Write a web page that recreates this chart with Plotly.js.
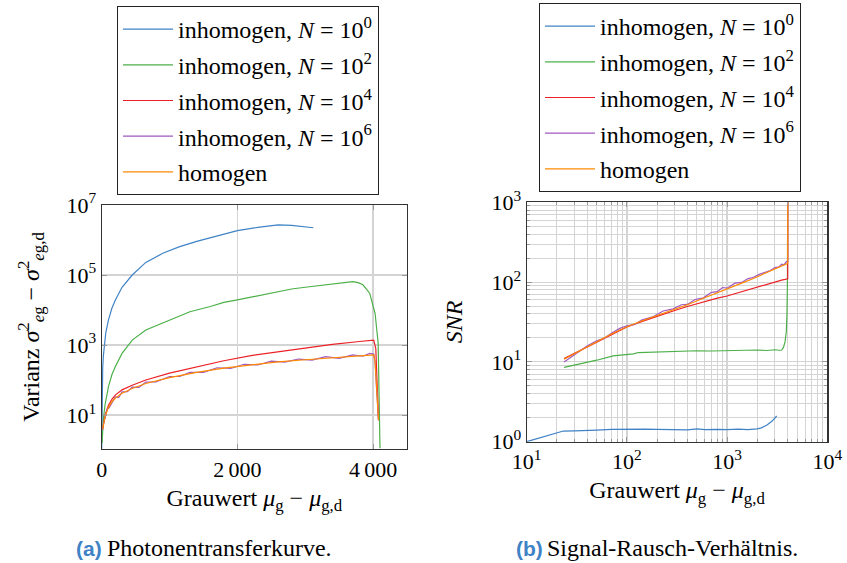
<!DOCTYPE html>
<html>
<head>
<meta charset="utf-8">
<script src="https://cdn.plot.ly/plotly-3.0.1.min.js"></script>
<style>html,body{margin:0;padding:0;background:#fff;}#chart{width:847px;height:563px;}</style>
</head>
<body>
<div id="chart"></div>
<script>
// ---------- Data: (a) Photonentransferkurve ----------
const seriesNames = ['inhomogen, <i>N</i> = 10<sup>0</sup>', 'inhomogen, <i>N</i> = 10<sup>2</sup>',
  'inhomogen, <i>N</i> = 10<sup>4</sup>', 'inhomogen, <i>N</i> = 10<sup>6</sup>', 'homogen'];
const seriesColors = ['#3f83c6', '#4cb049', '#ec2027', '#a259c2', '#ff8a00'];

const ptcN0x = [0, 8, 15, 25, 40, 60, 100, 150, 200, 300, 450, 650, 900, 1150, 1400, 1700, 2000, 2300, 2600, 2800, 3000, 3119];
const ptcN0y = [1.1, 79, 224, 500, 1120, 2240, 5250, 11200, 19000, 44700, 100000, 229000, 417000, 646000, 912000, 1320000, 1860000, 2290000, 2690000, 2630000, 2400000, 2240000];

const ptcN2x = [5, 15, 25, 50, 100, 150, 200, 300, 450, 650, 1000, 1300, 1600, 1800, 2000, 2200, 2400, 2600, 2800, 3000, 3200, 3350, 3500, 3600, 3700, 3780, 3850, 3950, 4030, 4075, 4092, 4102];
const ptcN2y = [1.58, 3.98, 7.94, 20, 64.6, 141, 240, 575, 1380, 2690, 5250, 8910, 12600, 16600, 19500, 23400, 28200, 33900, 39800, 44700, 50100, 55000, 58900, 61700, 64600, 60300, 52500, 30200, 7940, 1120, 39.8, 1.12];

const ptcN4x = [15, 25, 50, 100, 150, 200, 300, 450, 650, 1000, 1400, 1800, 2200, 2600, 3000, 3400, 3800, 3950, 4010, 4040, 4060, 4080];
const ptcN4y = [4.17, 5.62, 10, 19.1, 28.2, 37.2, 52.5, 70.8, 100, 158, 240, 355, 501, 646, 832, 1050, 1260, 1350, 1380, 794, 100, 7.08];

const ptcN6x = [15, 25, 50, 80, 110, 150, 200, 250, 300, 380, 450, 550, 650, 800, 1000, 1150, 1300, 1500, 1700, 1900, 2100, 2300, 2500, 2700, 2900, 3100, 3300, 3500, 3700, 3850, 3950, 4010, 4030, 4050, 4070, 4080];
const ptcN6y = [3.8, 5.5, 8.32, 14.8, 16.2, 22.9, 33.1, 31.6, 45.7, 46.8, 63.1, 61.7, 87.1, 89.1, 126, 126, 166, 166, 224, 214, 282, 269, 347, 324, 398, 372, 468, 417, 525, 479, 575, 550, 316, 63.1, 15.8, 7.08];

const ptcHomx = [15, 25, 50, 100, 150, 200, 300, 450, 650, 1000, 1400, 1800, 2200, 2600, 3000, 3400, 3800, 3950, 4010, 4030, 4050, 4070, 4080];
const ptcHomy = [3.98, 5.25, 8.91, 16.6, 24, 30.2, 41.7, 57.5, 79.4, 117, 166, 219, 275, 331, 380, 437, 490, 513, 525, 316, 63.1, 15.8, 7.08];

// ---------- Data: (b) Signal-Rausch-Verhältnis ----------
const snrN0x = [10, 23.2, 30, 40, 50, 70, 85, 100, 150, 200, 300, 400, 500, 600, 800, 1000, 1300, 1600, 2000, 2200, 2500, 2800, 3126];
const snrN0y = [1.0, 1.36, 1.37, 1.38, 1.40, 1.43, 1.44, 1.44, 1.44, 1.43, 1.42, 1.41, 1.45, 1.42, 1.43, 1.42, 1.44, 1.42, 1.45, 1.49, 1.62, 1.80, 2.10];

const snrN2x = [23.6, 30, 40, 50, 73, 100, 116, 130, 214, 300, 500, 700, 1000, 1500, 2000, 2500, 3000, 3300, 3508, 3650, 3786, 3900, 3960, 4000, 4020, 4030];
const snrN2y = [8.55, 9.1, 9.9, 10.5, 11.9, 12.4, 12.6, 13.1, 13.4, 13.5, 13.8, 13.7, 13.9, 14.0, 14.1, 13.9, 14.2, 14.0, 14.1, 15.2, 17.8, 24, 40, 100, 400, 2000];

const snrN4x = [23.6, 30, 40, 50, 70, 100, 140, 184, 290, 400, 580, 800, 1000, 1400, 1830, 2500, 3000, 3500, 3784, 4027, 4028];
const snrN4y = [11.0, 12.8, 15.7, 18.0, 22.4, 27.4, 32.0, 36.2, 43.5, 49.5, 57.0, 63.0, 67.0, 76.0, 83.6, 95.0, 101, 106, 108, 110, 2000];

const snrN6x = [23.6, 30, 40, 50, 60, 70, 85, 100, 120, 140, 184, 230, 290, 350, 400, 480, 580, 700, 800, 900, 1000, 1200, 1400, 1600, 1830, 2100, 2400, 2700, 3000, 3300, 3500, 3700, 3935, 4027, 4028];
const snrN6y = [10.0, 12.3, 15.8, 18.4, 19.9, 22.9, 26.3, 28.4, 29.5, 33.4, 37.0, 43.5, 46.2, 52.0, 52.5, 60.5, 63.5, 74.5, 76.0, 85.5, 84.0, 97.0, 99.0, 110, 115, 125, 133, 140, 152, 155, 168, 165, 182, 178, 2000];

const snrHomx = [23.6, 30, 40, 50, 70, 100, 140, 184, 290, 400, 580, 800, 1000, 1400, 1830, 2400, 3000, 3500, 3935, 4027, 4028];
const snrHomy = [10.8, 12.6, 15.5, 17.9, 22.4, 27.6, 32.5, 36.8, 44.7, 52, 62.7, 73, 82.6, 97, 111, 128, 144, 157, 168, 172, 2000];

// ---------- Tick labels ----------
const leftXTicks = [0, 2000, 4000];
const leftXText = ['0', '2\u2009000', '4\u2009000'];
const leftYTicks = [10, 1000, 100000, 10000000];
const leftYText = ['10<sup>1</sup>', '10<sup>3</sup>', '10<sup>5</sup>', '10<sup>7</sup>'];
const rightXTicks = [10, 100, 1000, 10000];
const rightXText = ['10<sup>1</sup>', '10<sup>2</sup>', '10<sup>3</sup>', '10<sup>4</sup>'];
const rightYTicks = [1, 10, 100, 1000];
const rightYText = ['10<sup>0</sup>', '10<sup>1</sup>', '10<sup>2</sup>', '10<sup>3</sup>'];

// minor tick positions for log axes (2..9 in each decade)
function minorVals(d0, d1) {
  const v = [];
  for (let d = d0; d < d1; d++) for (let m = 2; m <= 9; m++) v.push(m * Math.pow(10, d));
  return v;
}

const FONT = 'Liberation Serif';
const SANS = 'Liberation Sans';
const leftX = [ptcN0x, ptcN2x, ptcN4x, ptcN6x, ptcHomx];
const leftY = [ptcN0y, ptcN2y, ptcN4y, ptcN6y, ptcHomy];
const rightX = [snrN0x, snrN2x, snrN4x, snrN6x, snrHomx];
const rightY = [snrN0y, snrN2y, snrN4y, snrN6y, snrHomy];

const traces = [];
for (let i = 0; i < 5; i++) {
  traces.push({x: leftX[i], y: leftY[i], xaxis: 'x', yaxis: 'y', type: 'scatter', mode: 'lines',
    name: seriesNames[i], legend: 'legend', legendgroup: 'a' + i,
    line: {color: seriesColors[i], width: 1.2}});
}
for (let i = 0; i < 5; i++) {
  traces.push({x: rightX[i], y: rightY[i], xaxis: 'x2', yaxis: 'y2', type: 'scatter', mode: 'lines',
    name: seriesNames[i], legend: 'legend2', legendgroup: 'b' + i,
    line: {color: seriesColors[i], width: 1.2}});
}

const GRID = '#d4d4d4';
const FRAME = '#333333';
const tickFont = {family: FONT, size: 22, color: '#000'};
const titleFont = {family: FONT, size: 24, color: '#000'};

const legendBase = {
  font: {family: FONT, size: 24, color: '#000'},
  bgcolor: '#fff', bordercolor: '#222', borderwidth: 1,
  xanchor: 'left', yanchor: 'top', itemwidth: 50, tracegroupgap: 1.5,
  itemclick: false, itemdoubleclick: false
};

const layout = {
  width: 847, height: 563,
  margin: {l: 0, r: 0, t: 0, b: 0},
  paper_bgcolor: '#fff', plot_bgcolor: '#fff',
  font: {family: FONT, color: '#000'},
  showlegend: true,
  legend: Object.assign({}, legendBase, {x: 117 / 847, y: 1 - 6 / 563}),
  legend2: Object.assign({}, legendBase, {x: 539 / 847, y: 1 - 3 / 563}),
  xaxis: {
    domain: [101.7 / 847, 407 / 847], anchor: 'y', range: [0, 4500],
    tickmode: 'array', tickvals: leftXTicks, ticktext: leftXText,
    showgrid: true, gridcolor: GRID, gridwidth: 1.2, zeroline: false,
    showline: true, linecolor: FRAME, linewidth: 1.2, mirror: 'ticks',
    ticks: 'inside', ticklen: 5, tickcolor: '#999', tickfont: tickFont,
    title: {text: 'Grauwert <i>μ</i><sub>g</sub> − <i>μ</i><sub>g,d</sub>', font: titleFont, standoff: 8}
  },
  yaxis: {
    domain: [1 - 449 / 563, 1 - 205 / 563], anchor: 'x', type: 'log', range: [0.03, 7],
    tickmode: 'array', tickvals: leftYTicks, ticktext: leftYText,
    showgrid: true, gridcolor: GRID, gridwidth: 1.2, zeroline: false,
    showline: true, linecolor: FRAME, linewidth: 1.2, mirror: 'ticks',
    ticks: 'inside', ticklen: 5, tickcolor: '#999', tickfont: tickFont,
    title: {text: 'Varianz <i>σ</i><sup>2</sup><sub><i>e</i>g</sub> − <i>σ</i><sup>2</sup><sub><i>e</i>g,d</sub>', font: titleFont, standoff: 20}
  },
  xaxis2: {
    domain: [526.7 / 847, 827.3 / 847], anchor: 'y2', type: 'log', range: [1, 4],
    tickmode: 'array', tickvals: rightXTicks, ticktext: rightXText,
    showgrid: true, gridcolor: GRID, gridwidth: 1.2, zeroline: false,
    showline: true, linecolor: FRAME, linewidth: 1.2, mirror: 'ticks',
    ticks: 'inside', ticklen: 5, tickcolor: '#999', tickfont: tickFont,
    minor: {tickmode: 'array', tickvals: minorVals(1, 4), showgrid: true, gridcolor: GRID, gridwidth: 1,
      ticks: 'inside', ticklen: 3, tickcolor: '#999'},
    title: {text: 'Grauwert <i>μ</i><sub>g</sub> − <i>μ</i><sub>g,d</sub>', font: titleFont, standoff: 8}
  },
  yaxis2: {
    domain: [1 - 441.7 / 563, 1 - 202.3 / 563], anchor: 'x2', type: 'log', range: [0, 3],
    tickmode: 'array', tickvals: rightYTicks, ticktext: rightYText,
    showgrid: true, gridcolor: GRID, gridwidth: 1.2, zeroline: false,
    showline: true, linecolor: FRAME, linewidth: 1.2, mirror: 'ticks',
    ticks: 'inside', ticklen: 5, tickcolor: '#999', tickfont: tickFont,
    minor: {tickmode: 'array', tickvals: minorVals(0, 3), showgrid: true, gridcolor: GRID, gridwidth: 1,
      ticks: 'inside', ticklen: 3, tickcolor: '#999'},
    title: {text: '<i>SNR</i>', font: titleFont, standoff: 22}
  },
  annotations: [
    {xref: 'paper', yref: 'paper', x: 74 / 847, y: 1 - 548 / 563, xanchor: 'left', yanchor: 'middle', showarrow: false,
      text: '<b>(a)</b>', font: {family: SANS, size: 21, color: '#3f83c6'}},
    {xref: 'paper', yref: 'paper', x: 105 / 847, y: 1 - 548 / 563, xanchor: 'left', yanchor: 'middle', showarrow: false,
      text: 'Photonentransferkurve.', font: {family: FONT, size: 24, color: '#000'}},
    {xref: 'paper', yref: 'paper', x: 514 / 847, y: 1 - 548 / 563, xanchor: 'left', yanchor: 'middle', showarrow: false,
      text: '<b>(b)</b>', font: {family: SANS, size: 21, color: '#3f83c6'}},
    {xref: 'paper', yref: 'paper', x: 545 / 847, y: 1 - 548 / 563, xanchor: 'left', yanchor: 'middle', showarrow: false,
      text: 'Signal-Rausch-Verhältnis.', font: {family: FONT, size: 24, color: '#000'}}
  ]
};

Plotly.newPlot('chart', traces, layout, {staticPlot: true, displayModeBar: false});
</script>
</body>
</html>
